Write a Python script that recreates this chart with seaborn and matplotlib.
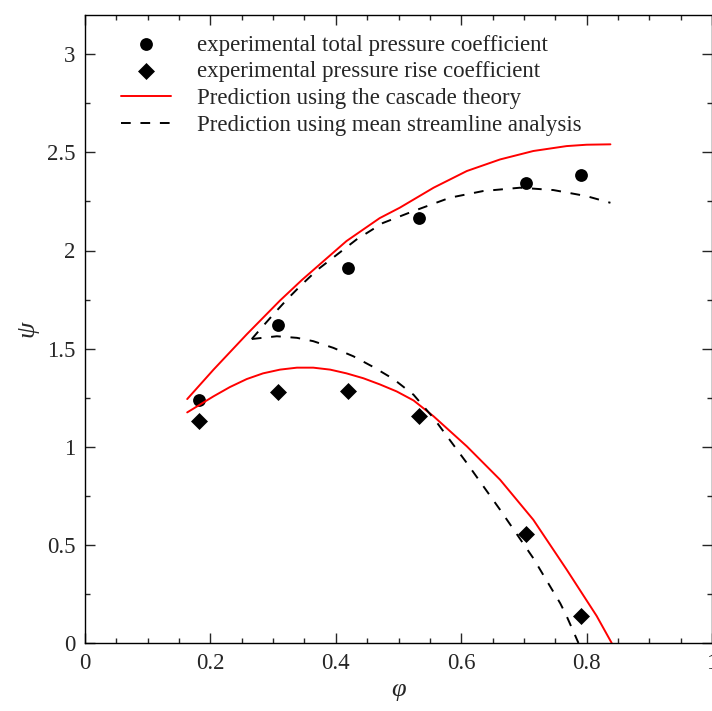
import numpy as np
import pandas as pd
import matplotlib
matplotlib.use("Agg")
import matplotlib.pyplot as plt
from matplotlib.ticker import MultipleLocator
import seaborn as sns

# 实验数据点
phi_exp = [0.182, 0.308, 0.419, 0.533, 0.703, 0.791]
psi_total = [1.24, 1.622, 1.913, 2.168, 2.342, 2.383]
psi_rise = [1.133, 1.28, 1.286, 1.158, 0.556, 0.138]

# 叶栅理论预测（红色实线）
phi_casc_total = [0.163, 0.205, 0.258, 0.311, 0.346, 0.417, 0.470, 0.502, 0.556,
                  0.609, 0.662, 0.715, 0.768, 0.800, 0.838]
psi_casc_total = [1.243, 1.393, 1.573, 1.745, 1.850, 2.048, 2.165, 2.218, 2.320,
                  2.405, 2.464, 2.507, 2.532, 2.539, 2.541]
phi_casc_rise = [0.163, 0.183, 0.205, 0.231, 0.258, 0.284, 0.311, 0.338, 0.364, 0.391, 0.417,
                 0.444, 0.470, 0.497, 0.524, 0.556, 0.609, 0.662, 0.715, 0.768, 0.816, 0.840]
psi_casc_rise = [1.175, 1.214, 1.257, 1.304, 1.345, 1.374, 1.393, 1.403, 1.403, 1.393, 1.374,
                 1.349, 1.318, 1.282, 1.236, 1.155, 1.002, 0.832, 0.628, 0.375, 0.138, 0.0]

# 平均流线分析预测（黑色虚线）
phi_msl_total = [0.266, 0.279, 0.300, 0.322, 0.343, 0.370, 0.433, 0.475, 0.524,
                 0.582, 0.635, 0.694, 0.747, 0.800, 0.838]
psi_msl_total = [1.549, 1.597, 1.673, 1.750, 1.818, 1.900, 2.056, 2.140, 2.201,
                 2.269, 2.303, 2.320, 2.308, 2.277, 2.243]
phi_msl_rise = [0.266, 0.306, 0.338, 0.364, 0.396, 0.428, 0.460, 0.492, 0.524,
                0.556, 0.609, 0.662, 0.715, 0.758, 0.768, 0.787]
psi_msl_rise = [1.549, 1.563, 1.555, 1.538, 1.504, 1.461, 1.406, 1.345, 1.265,
                1.146, 0.917, 0.679, 0.432, 0.202, 0.138, 0.0]

sns.set_style("ticks")
plt.rcParams['font.family'] = ['Liberation Serif', 'DejaVu Serif']

fig = plt.figure(figsize=(7.12, 7.11), dpi=100)
ax = fig.add_axes([85 / 712, 1 - 643 / 711, 627 / 712, 628 / 711])

curves = [
    (phi_casc_total, psi_casc_total, "red", "-", "Prediction using the cascade theory"),
    (phi_casc_rise, psi_casc_rise, "red", "-", None),
    (phi_msl_total, psi_msl_total, "black", (0, (5, 5)), "Prediction using mean streamline analysis"),
    (phi_msl_rise, psi_msl_rise, "black", (0, (5, 5)), None),
]
for xs, ys, c, ls, lab in curves:
    df = pd.DataFrame({"phi": xs, "psi": ys})
    sns.lineplot(data=df, x="phi", y="psi", ax=ax, color=c, linestyle=ls,
                 linewidth=1.4, sort=False, estimator=None, label=lab, legend=False)

sns.scatterplot(x=phi_exp, y=psi_total, ax=ax, color="black", marker="o", s=85,
                edgecolor="black", linewidth=0, label="experimental total pressure coefficient", legend=False)
sns.scatterplot(x=phi_exp, y=psi_rise, ax=ax, color="black", marker="D", s=75,
                edgecolor="black", linewidth=0, label="experimental pressure rise coefficient", legend=False)

ax.set_xlim(0, 1)
ax.set_ylim(0, 3.2)
ax.set_xticks([0, 0.2, 0.4, 0.6, 0.8, 1.0])
ax.set_xticklabels(["0", "0.2", "0.4", "0.6", "0.8", "1"])
ax.set_yticks([0, 0.5, 1, 1.5, 2, 2.5, 3])
ax.set_yticklabels(["0", "0.5", "1", "1.5", "2", "2.5", "3"])
ax.xaxis.set_minor_locator(MultipleLocator(0.05))
ax.yaxis.set_minor_locator(MultipleLocator(0.25))
ax.tick_params(which="both", direction="in", top=True, right=True, labelsize=16.5, width=1, pad=7)
ax.tick_params(which="major", length=7.2)
ax.tick_params(which="minor", length=3.6)
for sp in ax.spines.values():
    sp.set_linewidth(1)
    sp.set_color("black")

ax.set_xlabel("φ", fontsize=19, fontstyle="italic")
ax.set_ylabel("ψ", fontsize=19, fontstyle="italic")
ax.xaxis.set_label_coords(0.5, -0.057)
ax.yaxis.set_label_coords(-0.075, 0.5)

h, l = ax.get_legend_handles_labels()
order = ["experimental total pressure coefficient", "experimental pressure rise coefficient",
         "Prediction using the cascade theory", "Prediction using mean streamline analysis"]
hd = dict(zip(l, h))
ax.legend([hd[k] for k in order], order, loc="upper left", bbox_to_anchor=(0.057, 0.969),
          frameon=False, fontsize=16.5, handlelength=2.18, handletextpad=1.13,
          labelspacing=0.25, borderaxespad=0, borderpad=0)

fig.savefig("out.png", dpi=100)
